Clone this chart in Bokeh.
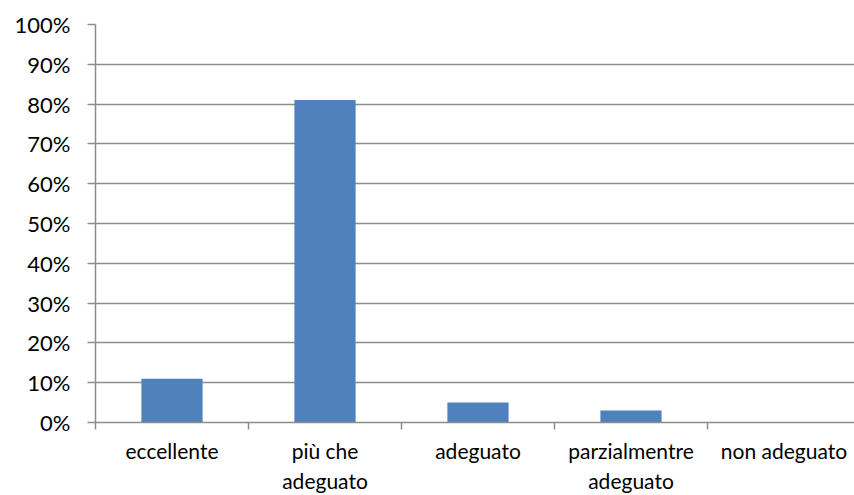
from bokeh.plotting import figure
from bokeh.models import Range1d, FixedTicker, NumeralTickFormatter, ColumnDataSource
from bokeh.embed import file_html
from bokeh.resources import INLINE

categories = ["eccellente", "più che\nadeguato", "adeguato", "parzialmentre\nadeguato", "non adeguato"]
shares = [0.11, 0.81, 0.05, 0.03, 0.0]
y_ticks = [0.0, 0.1, 0.2, 0.3, 0.4, 0.5, 0.6, 0.7, 0.8, 0.9, 1.0]

centers = [i + 0.5 for i in range(len(categories))]
bounds = [float(i) for i in range(len(categories) + 1)]

FONT = "Lato"
GRID = "#8c8c8c"
W, H = 854, 495
LEFT, TOP, BOTTOM = 95, 24, 70
slot_px = 153

p = figure(width=W, height=H, output_backend="svg", toolbar_location=None,
           min_border_left=LEFT, min_border_right=0, min_border_top=TOP,
           min_border_bottom=BOTTOM,
           x_range=Range1d(0, (W - LEFT) / slot_px), y_range=Range1d(0, 1))
p.outline_line_color = None

src = ColumnDataSource(dict(x=centers, top=shares))
p.vbar(x="x", top="top", width=0.4, bottom=0, source=src,
       fill_color="#4F81BD", line_color=None)

# y axis: percent ticks with outward tick marks
p.yaxis.ticker = FixedTicker(ticks=y_ticks, minor_ticks=[])
p.yaxis.formatter = NumeralTickFormatter(format="0%")
p.yaxis.axis_line_color = GRID
p.yaxis.axis_line_width = 1.5
p.yaxis.major_tick_line_color = GRID
p.yaxis.major_tick_line_width = 1.5
p.yaxis.major_tick_out = 8
p.yaxis.major_tick_in = 0
p.yaxis.major_label_standoff = 17
p.yaxis.major_label_text_font = FONT
p.yaxis.major_label_text_font_size = "22px"
p.yaxis.major_label_text_color = "#000000"

# x axis: labels at category centres, tick marks at category boundaries
p.xaxis.ticker = FixedTicker(ticks=centers, minor_ticks=bounds)
p.xaxis.major_label_overrides = {c: lab for c, lab in zip(centers, categories)}
p.xaxis.axis_line_color = GRID
p.xaxis.axis_line_width = 1.5
p.xaxis.major_tick_line_color = None
p.xaxis.minor_tick_line_color = GRID
p.xaxis.minor_tick_line_width = 1.5
p.xaxis.minor_tick_out = 7
p.xaxis.minor_tick_in = 0
p.xaxis.major_label_standoff = 8
p.xaxis.major_label_text_font = FONT
p.xaxis.major_label_text_font_size = "21px"
p.xaxis.major_label_text_line_height = 1.2
p.xaxis.major_label_text_color = "#000000"

p.xgrid.grid_line_color = None
p.ygrid.ticker = FixedTicker(ticks=y_ticks)
p.ygrid.grid_line_color = GRID
p.ygrid.grid_line_width = 1.5

open("out.html", "w").write(file_html(p, INLINE))
